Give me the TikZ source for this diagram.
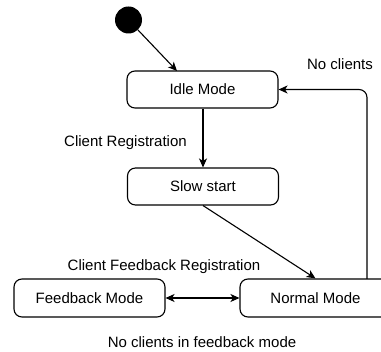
\documentclass[tikz,border=0pt]{standalone}
\usepackage{fontspec}
\setmainfont{Liberation Sans}
\usetikzlibrary{arrows.meta}
\begin{document}
\begin{tikzpicture}[x=1pt,y=-1pt,
  state/.style={draw, line width=1.1pt, rounded corners=8pt, minimum width=151pt, minimum height=37pt, inner sep=0pt, font=\fontsize{15}{17}\selectfont},
  lbl/.style={font=\fontsize{15}{17}\selectfont, inner sep=0pt},
  conn/.style={line width=1.1pt, -{Stealth[length=9pt,width=8pt,inset=2.5pt]}}]
\clip (0,0) rectangle (381,352);
\node[circle, fill=black, minimum size=27pt, inner sep=0pt] (init) at (128.5,20) {};
\node[state] (idle) at (202.5,89.5) {Idle Mode};
\node[state] (slow) at (203,186.5) {Slow start};
\node[state, minimum height=38pt] (fb) at (89.5,298) {Feedback Mode};
\node[state, minimum height=38pt] (normal) at (315.5,298) {Normal Mode};
\coordinate (idlein) at (177,71);
\coordinate (ret) at (367,279);
\node[lbl] (l1) at (125.5,143) {Client Registration};
\node[lbl] (l2) at (164,267) {Client Feedback Registration};
\node[lbl] (l3) at (202,342) {No clients in feedback mode};
\node[lbl] (l4) at (340,64) {No clients};
\draw[conn] (init) -- (idlein);
\draw[conn] (idle.south -| slow.north) -- (slow.north);
\draw[conn] (slow.south) -- (normal.north);
\draw[line width=1.1pt, {Stealth[length=9pt,width=8pt,inset=2.5pt]}-{Stealth[length=9pt,width=8pt,inset=2.5pt]}] (fb.east) -- (normal.west);
\draw[conn, rounded corners=8pt] (ret) |- (idle.east);
\end{tikzpicture}
\end{document}
